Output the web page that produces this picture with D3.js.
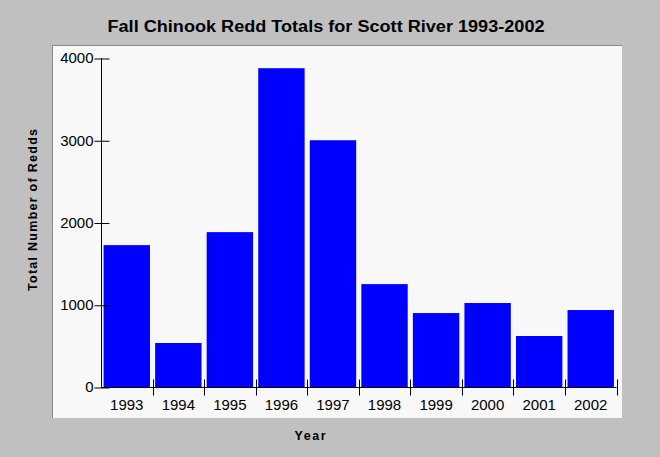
<!DOCTYPE html>
<html>
<head>
<meta charset="utf-8">
<script src="https://cdn.jsdelivr.net/npm/d3@7"></script>
<style>
  html, body { margin: 0; padding: 0; background: #c0c0c0; }
  svg { display: block; }
</style>
</head>
<body>
<svg id="chart" width="660" height="457"></svg>
<script>
const years = ["1993","1994","1995","1996","1997","1998","1999","2000","2001","2002"];
const redds = [1725, 535, 1883, 3876, 3000, 1251, 899, 1021, 620, 936];
const yTicks = [0, 1000, 2000, 3000, 4000];
const titleText = "Fall Chinook Redd Totals for Scott River 1993-2002";
const xLabel = "Year";
const yLabel = "Total Number of Redds";

const svg = d3.select("#chart");
const W = 660, H = 457;
svg.append("rect").attr("width", W).attr("height", H).attr("fill", "#c0c0c0");

// plot panel
const panel = {x: 52, y: 45, w: 570, h: 373};
svg.append("rect").attr("x", panel.x).attr("y", panel.y).attr("width", panel.w).attr("height", panel.h).attr("fill", "#f8f8f8");
svg.append("line").attr("x1", panel.x + 0.5).attr("x2", panel.x + 0.5).attr("y1", panel.y).attr("y2", panel.y + panel.h).attr("stroke", "#8a8a8a");
svg.append("line").attr("x1", panel.x).attr("x2", panel.x + panel.w).attr("y1", panel.y + 0.5).attr("y2", panel.y + 0.5).attr("stroke", "#8a8a8a");

const m = {left: 101, right: 616.5, top: 58, bottom: 387};
const x = d3.scaleBand().domain(years).range([m.left, m.right]).paddingInner(0.1).paddingOuter(0.05);
const y = d3.scaleLinear().domain([0, 4000]).range([m.bottom, m.top]);

// bars
svg.append("g").selectAll("rect").data(years).join("rect")
  .attr("x", d => x(d))
  .attr("width", x.bandwidth())
  .attr("y", (d, i) => y(redds[i]))
  .attr("height", (d, i) => y(0) - y(redds[i]))
  .attr("fill", "#0000ff");

// y axis
const yAxis = svg.append("g").attr("transform", `translate(${m.left + 0.5},0)`)
  .call(d3.axisLeft(y).tickValues(yTicks).tickSize(0).tickPadding(8).tickFormat(d3.format("d")));
yAxis.select(".domain").remove();
yAxis.append("line").attr("x1", 0).attr("x2", 0).attr("y1", y(4000)).attr("y2", y(0)).attr("stroke", "#000");
yAxis.selectAll(".tick").append("line").attr("x1", -7).attr("x2", 8).attr("y1", 0.5).attr("y2", 0.5).attr("stroke", "#000");
yAxis.selectAll("text").attr("font-family", "Liberation Sans, Arial, sans-serif").attr("font-size", 15).attr("fill", "#000").attr("x", -8);

// x axis
const xAxisG = svg.append("g").attr("transform", `translate(0,${m.bottom + 0.5})`);
xAxisG.append("line").attr("x1", m.left).attr("x2", m.right).attr("y1", 0).attr("y2", 0).attr("stroke", "#000");
const step = x.step();
const boundaries = years.map((d, i) => x(d) + x.bandwidth() + (step - x.bandwidth()) / 2);
xAxisG.selectAll("line.b").data(boundaries).join("line").attr("class", "b")
  .attr("x1", d => Math.round(d) + 0.5).attr("x2", d => Math.round(d) + 0.5)
  .attr("y1", -8).attr("y2", 8).attr("stroke", "#000");
xAxisG.selectAll("text").data(years).join("text")
  .attr("x", d => x(d) + x.bandwidth() / 2)
  .attr("y", 22)
  .attr("text-anchor", "middle")
  .attr("font-family", "Liberation Sans, Arial, sans-serif")
  .attr("font-size", 15)
  .attr("fill", "#000")
  .text(d => d);

// title
svg.append("text").attr("x", 326).attr("y", 32).attr("text-anchor", "middle")
  .attr("font-family", "Liberation Sans, Arial, sans-serif").attr("font-weight", "bold")
  .attr("font-size", 16).attr("fill", "#000")
  .attr("textLength", 437).attr("lengthAdjust", "spacingAndGlyphs")
  .text(titleText);

// axis labels
svg.append("text").attr("x", 310).attr("y", 440).attr("text-anchor", "middle")
  .attr("font-family", "Liberation Sans, Arial, sans-serif").attr("font-weight", "bold")
  .attr("font-size", 12.5).attr("fill", "#000")
  .attr("textLength", 31).attr("lengthAdjust", "spacing").text(xLabel);
svg.append("text").attr("transform", "translate(37,210) rotate(-90)").attr("text-anchor", "middle")
  .attr("font-family", "Liberation Sans, Arial, sans-serif").attr("font-weight", "bold")
  .attr("font-size", 12.5).attr("fill", "#000")
  .attr("textLength", 162).attr("lengthAdjust", "spacing").text(yLabel);
</script>
</body>
</html>
